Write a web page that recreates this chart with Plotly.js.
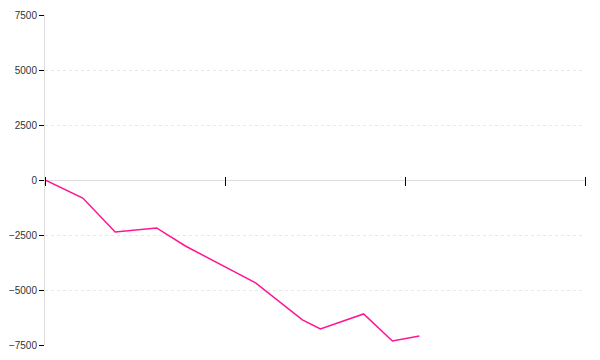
<!DOCTYPE html>
<html>
<head>
<meta charset="utf-8">
<script src="https://cdn.plot.ly/plotly-3.0.1.min.js"></script>
<style>html,body{margin:0;padding:0;background:#fff;}#chart{width:600px;height:360px;}</style>
</head>
<body>
<div id="chart"></div>
<script>
// Data (x in arbitrary units, ticks every 10)
const xValues = [0, 2.1, 3.9, 6.2, 7.8, 11.7, 14.3, 15.3, 17.7, 19.3, 20.8];
const yValues = [0, -820, -2360, -2180, -3000, -4680, -6360, -6770, -6090, -7320, -7090];
const yTickValues = [-7500, -5000, -2500, 0, 2500, 5000, 7500];
const xTickValues = [0, 10, 20, 30];

const trace = {
  x: xValues,
  y: yValues,
  type: 'scatter',
  mode: 'lines',
  line: {color: '#ff1493', width: 1.5},
  hoverinfo: 'skip'
};

const layout = {
  width: 600,
  height: 360,
  margin: {l: 45, r: 15, t: 15, b: 15, pad: 0},
  paper_bgcolor: '#ffffff',
  plot_bgcolor: '#ffffff',
  showlegend: false,
  font: {family: '"Liberation Sans", Arial, sans-serif', size: 10, color: '#333'},
  xaxis: {
    range: [0, 30],
    tickvals: xTickValues,
    showticklabels: false,
    ticks: 'outside',
    ticklen: 9,
    tickwidth: 1,
    tickcolor: '#000',
    showgrid: false,
    zeroline: false,
    showline: false,
    anchor: 'free',
    position: 0.5 + 4 / 330,
    fixedrange: true
  },
  yaxis: {
    range: [-7500, 7500],
    tickvals: yTickValues,
    ticks: 'outside',
    ticklen: 5,
    tickwidth: 1,
    tickcolor: '#000',
    showline: true,
    linecolor: '#dddddd',
    linewidth: 1,
    showgrid: true,
    gridcolor: '#e8e8e8',
    griddash: '3px,3px',
    gridwidth: 1,
    zeroline: true,
    zerolinecolor: '#dddddd',
    zerolinewidth: 1,
    fixedrange: true
  }
};

Plotly.newPlot('chart', [trace], layout, {displayModeBar: false, staticPlot: true});
</script>
</body>
</html>
